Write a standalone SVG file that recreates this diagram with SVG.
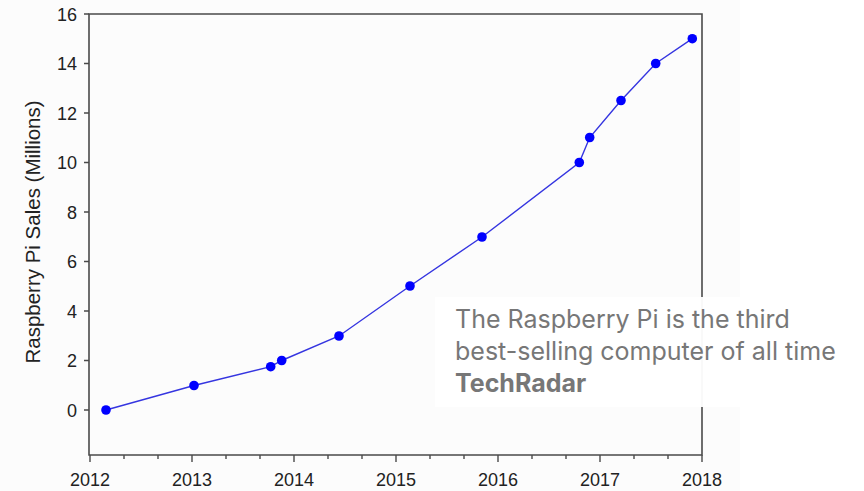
<svg xmlns="http://www.w3.org/2000/svg" width="864" height="491" viewBox="0 0 864 491">
<style>
.ax{stroke:#4a4a4a;stroke-width:1.6;fill:none}
.tk{stroke:#4a4a4a;stroke-width:1.4}
.lbl{font-family:"Liberation Sans",Arial,sans-serif;font-size:18px;fill:#222}
.yl{text-anchor:end}
.xl{text-anchor:middle}
.title{font-family:"Liberation Sans",Arial,sans-serif;font-size:20.5px;fill:#222;text-anchor:middle}
.dot{fill:#0000ff}
.quote{font-family:Inter,"Open Sans",sans-serif;font-size:25px;fill:#777}
</style>
<rect width="864" height="491" fill="#ffffff"/>
<rect x="0" y="0" width="740" height="491" fill="#fcfcfc"/>
<g id="axes">
<path class="ax" d="M89,14 H702 V455 H89 Z"/>
<g id="yticks">
<path class="tk" d="M84,14H89 M84,63.5H89 M84,113H89 M84,162.5H89 M84,212H89 M84,261.5H89 M84,311H89 M84,360.5H89 M84,410H89"/>
</g>
<g id="xticks">
<path class="tk" d="M90,455V462 M192,455V462 M294,455V462 M396,455V462 M498,455V462 M600,455V462 M702,455V462"/>
<path class="tk" d="M124,455V459 M158,455V459 M226,455V459 M260,455V459 M328,455V459 M362,455V459 M430,455V459 M464,455V459 M532,455V459 M566,455V459 M634,455V459 M668,455V459"/>
</g>
<g id="ylabels" class="lbl yl">
<text x="77" y="20.5">16</text>
<text x="77" y="70">14</text>
<text x="77" y="119.5">12</text>
<text x="77" y="169">10</text>
<text x="77" y="218.5">8</text>
<text x="77" y="268">6</text>
<text x="77" y="317.5">4</text>
<text x="77" y="367">2</text>
<text x="77" y="416.5">0</text>
</g>
<g id="xlabels" class="lbl xl">
<text x="90" y="486">2012</text>
<text x="192" y="486">2013</text>
<text x="294" y="486">2014</text>
<text x="396" y="486">2015</text>
<text x="498" y="486">2016</text>
<text x="600" y="486">2017</text>
<text x="702" y="486">2018</text>
</g>
<text class="title" transform="translate(40,232) rotate(-90)">Raspberry Pi Sales (Millions)</text>
</g>
<g id="series">
<polyline fill="none" stroke="#3535e0" stroke-width="1.4" points="106,410 194,385.5 270.7,366.7 281.7,360.5 339,336 410,286 482,237 579.3,162.5 589.7,137.5 621,100.5 655.7,63.5 692.3,38.7"/>
<g id="points">
<circle class="dot" cx="106" cy="410" r="4.8"/>
<circle class="dot" cx="194" cy="385.5" r="4.8"/>
<circle class="dot" cx="270.7" cy="366.7" r="4.8"/>
<circle class="dot" cx="281.7" cy="360.5" r="4.8"/>
<circle class="dot" cx="339" cy="336" r="4.8"/>
<circle class="dot" cx="410" cy="286" r="4.8"/>
<circle class="dot" cx="482" cy="237" r="4.8"/>
<circle class="dot" cx="579.3" cy="162.5" r="4.8"/>
<circle class="dot" cx="589.7" cy="137.5" r="4.8"/>
<circle class="dot" cx="621" cy="100.5" r="4.8"/>
<circle class="dot" cx="655.7" cy="63.5" r="4.8"/>
<circle class="dot" cx="692.3" cy="38.7" r="4.8"/>
</g>
</g>
<g id="quote">
<rect x="435" y="297" width="429" height="110" fill="#ffffff" fill-opacity="0.96"/>
<text class="quote" x="455" y="328">The Raspberry Pi is the third</text>
<text class="quote" x="455" y="360">best-selling computer of all time</text>
<text class="quote" x="455" y="392" font-weight="bold">TechRadar</text>
</g>
</svg>
